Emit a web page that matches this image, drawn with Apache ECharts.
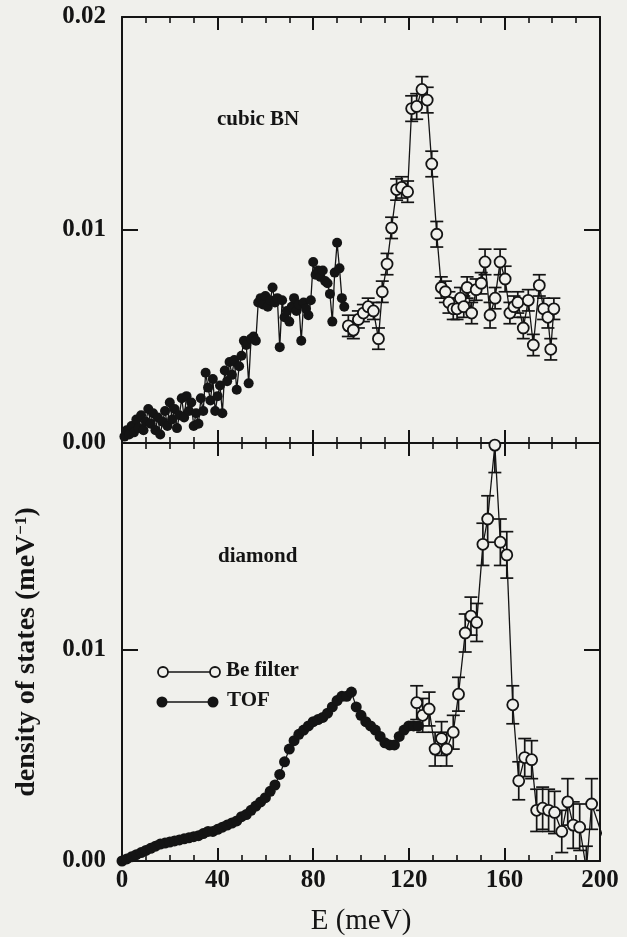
<!DOCTYPE html>
<html>
<head>
<meta charset="utf-8">
<script src="https://cdn.jsdelivr.net/npm/echarts@6/dist/echarts.min.js"></script>
<style>
  html, body { margin: 0; padding: 0; background: #f0f0ec; }
  #chart { width: 627px; height: 937px; }
</style>
</head>
<body>
<div id="chart"></div>
<script>
// Phonon density of states: cubic BN (top) and diamond (bottom).
// TOF = time-of-flight spectrometer, Be filter = beryllium-filter analyser.

// cubic BN, TOF
const cubicTofE = [1,2,3,4,5,6,7,8,9,10,11,12,13,14,15,16,17,18,19,20,
  21,22,23,24,25,26,27,28,29,30,31,32,33,34,35,36,37,38,39,40,
  41,42,43,44,45,46,47,48,49,50,51,52,53,54,55,56,57,58,59,60,
  61,62,63,64,65,66,67,68,69,70,71,72,73,74,75,76,77,78,79,80,
  81,82,83,84,85,86,87,88,89,90,91,92,93];
const cubicTofDos = [0.0003,0.0006,0.0004,0.0008,0.0005,0.0011,0.0007,0.0013,0.0006,0.0010,
  0.0016,0.0009,0.0014,0.0006,0.0012,0.0004,0.0010,0.0015,0.0008,0.0019,
  0.0011,0.0016,0.0007,0.0013,0.0021,0.0012,0.0022,0.0015,0.0019,0.0008,
  0.0014,0.0009,0.0021,0.0015,0.0033,0.0026,0.0020,0.0030,0.0015,0.0022,
  0.0027,0.0014,0.0034,0.0029,0.0038,0.0032,0.0039,0.0025,0.0036,0.0041,
  0.0048,0.0046,0.0028,0.0049,0.0050,0.0048,0.0066,0.0068,0.0065,0.0069,
  0.0064,0.0067,0.0073,0.0066,0.0068,0.0045,0.0067,0.0059,0.0062,0.0057,
  0.0064,0.0068,0.0062,0.0065,0.0048,0.0066,0.0063,0.0060,0.0067,0.0085,
  0.0079,0.0081,0.0078,0.0081,0.0076,0.0075,0.0070,0.0057,0.0080,0.0094,
  0.0082,0.0068,0.0064];

// cubic BN, Be filter (with error bars)
const cubicBeE = [94.7,96.8,98.9,101.0,103.0,105.2,107.3,108.9,110.9,112.8,
  114.9,117.0,119.5,121.2,123.3,125.5,127.7,129.6,131.7,133.6,
  135.3,136.8,138.6,140.2,141.6,143.0,144.4,146.3,148.2,150.3,
  151.9,154.0,156.1,158.2,160.3,162.3,164.0,165.6,167.9,170.0,
  172.1,174.6,176.4,178.2,179.4,180.7];
const cubicBeDos = [0.0055,0.0053,0.0058,0.0061,0.0064,0.0062,0.0049,0.0071,0.0084,0.0101,
  0.0119,0.0120,0.0118,0.0157,0.0158,0.0166,0.0161,0.0131,0.0098,0.0073,
  0.0071,0.0066,0.0063,0.0063,0.0068,0.0064,0.0073,0.0061,0.0072,0.0075,
  0.0085,0.0060,0.0068,0.0085,0.0077,0.0061,0.0064,0.0066,0.0054,0.0067,
  0.0046,0.0074,0.0063,0.0059,0.0044,0.0063];
const cubicBeErr = [0.0005,0.0004,0.0004,0.0004,0.0004,0.0004,0.0005,0.0005,0.0005,0.0005,
  0.0005,0.0005,0.0005,0.0006,0.0006,0.0006,0.0006,0.0006,0.0006,0.0005,
  0.0005,0.0005,0.0005,0.0005,0.0005,0.0005,0.0005,0.0005,0.0005,0.0005,
  0.0006,0.0006,0.0005,0.0006,0.0006,0.0005,0.0005,0.0005,0.0005,0.0005,
  0.0005,0.0005,0.0005,0.0005,0.0005,0.0005];

// diamond, TOF
const diamondTofE = [0,2,4,6,8,10,12,14,16,18,20,22,24,26,28,30,32,34,36,38,
  40,42,44,46,48,50,52,54,56,58,60,62,64,66,68,70,72,74,76,78,
  80,82,84,86,88,90,92,94,96,98,100,102,104,106,108,110,112,114,116,118,
  120,122,124];
const diamondTofDos = [0.0000,0.0001,0.0002,0.0003,0.0004,0.0005,0.0006,0.0007,0.0008,0.00085,
  0.0009,0.00095,0.0010,0.00105,0.0011,0.00115,0.0012,0.0013,0.0014,0.0014,
  0.0015,0.0016,0.0017,0.0018,0.0019,0.0021,0.0022,0.0024,0.0026,0.0028,
  0.0030,0.0033,0.0036,0.0041,0.0047,0.0053,0.0057,0.0060,0.0062,0.0064,
  0.0066,0.0067,0.0068,0.0070,0.0073,0.0076,0.0078,0.0078,0.0080,0.0073,
  0.0069,0.0066,0.0064,0.0062,0.0059,0.0056,0.0055,0.0055,0.0059,0.0062,
  0.0064,0.0064,0.0064];

// diamond, Be filter (with error bars)
const diamondBeE = [123.3,125.8,128.5,131.0,133.7,135.8,138.6,140.8,143.6,146.0,
  148.4,151.0,153.0,156.0,158.3,161.0,163.5,166.0,168.5,171.4,
  173.5,176.0,178.5,181.0,184.0,186.5,188.8,191.5,194.3,196.5,201.0];
const diamondBeDos = [0.0075,0.0069,0.0072,0.0053,0.0058,0.0053,0.0061,0.0079,0.0108,0.0116,
  0.0113,0.0150,0.0162,0.0197,0.0151,0.0145,0.0074,0.0038,0.0049,0.0048,
  0.0024,0.0025,0.0024,0.0023,0.0014,0.0028,0.0017,0.0016,-0.0004,0.0027,0.0012];
const diamondBeErr = [0.0008,0.0008,0.0008,0.0008,0.0008,0.0008,0.0008,0.0008,0.0009,0.0009,
  0.0009,0.0010,0.0011,0.0013,0.0011,0.0011,0.0009,0.0009,0.0009,0.0009,
  0.0010,0.0010,0.0010,0.0010,0.0010,0.0011,0.0011,0.0011,0.0011,0.0012,0.0012];

// axis ticks
const xTicks = [0, 40, 80, 120, 160, 200];
const yTicks = [0.00, 0.01, 0.02];

const INK = '#141414';
const PAPER = '#f0f0ec';
const SERIF = "'Liberation Serif', 'DejaVu Serif', serif";

const pairs = (xs, ys) => xs.map((x, i) => [x, ys[i]]);
const triples = (xs, ys, es) => xs.map((x, i) => [x, ys[i], es[i]]);

function errorBars(params, api) {
  const x = api.value(0), y = api.value(1), e = api.value(2);
  const hi = api.coord([x, y + e]);
  const lo = api.coord([x, y - e]);
  const hw = 6.5;
  const st = { stroke: INK, lineWidth: 1.7 };
  return {
    type: 'group',
    children: [
      { type: 'line', shape: { x1: hi[0], y1: hi[1], x2: lo[0], y2: lo[1] }, style: st },
      { type: 'line', shape: { x1: hi[0] - hw, y1: hi[1], x2: hi[0] + hw, y2: hi[1] }, style: st },
      { type: 'line', shape: { x1: lo[0] - hw, y1: lo[1], x2: lo[0] + hw, y2: lo[1] }, style: st }
    ]
  };
}

function xAxisFor(grid, pos, labels) {
  return {
    type: 'value', gridIndex: grid, position: pos, min: 0, max: 200, interval: 40,
    axisLine: { show: true, onZero: false, lineStyle: { color: INK, width: 2 } },
    axisTick: { show: true, inside: true, length: 13, lineStyle: { color: INK, width: 2 } },
    minorTick: { show: true, splitNumber: 4, length: 6, lineStyle: { color: INK, width: 1.6 } },
    splitLine: { show: false },
    axisLabel: {
      show: labels, margin: 7, color: INK, fontFamily: SERIF, fontWeight: 'bold', fontSize: 25,
      formatter: v => (xTicks.includes(v) ? String(v) : '')
    },
    name: labels ? 'E (meV)' : '',
    nameLocation: 'middle', nameGap: 46,
    nameTextStyle: { color: INK, fontFamily: SERIF, fontSize: 29 }
  };
}

function yAxisFor(grid, pos, max, labels) {
  return {
    type: 'value', gridIndex: grid, position: pos, min: 0, max: max, interval: 0.01,
    axisLine: { show: true, onZero: false, lineStyle: { color: INK, width: 2 } },
    axisTick: { show: true, inside: true, length: 16, lineStyle: { color: INK, width: 2 } },
    splitLine: { show: false },
    axisLabel: {
      show: labels, margin: 16, color: INK, fontFamily: SERIF, fontWeight: 'bold', fontSize: 25,
      showMaxLabel: max === 0.02,
      formatter: v => (yTicks.some(t => Math.abs(t - v) < 1e-9) ? v.toFixed(2) : '')
    }
  };
}

const lineStyle = { color: INK, width: 1.3 };

const option = {
  backgroundColor: PAPER,
  animation: false,
  grid: [
    { left: 122, top: 17, width: 478, height: 426 },
    { left: 122, top: 443, width: 478, height: 419 }
  ],
  xAxis: [
    xAxisFor(0, 'bottom', false),
    xAxisFor(0, 'top', false),
    xAxisFor(1, 'bottom', true),
    xAxisFor(1, 'top', false)
  ],
  yAxis: [
    yAxisFor(0, 'left', 0.02, true),
    yAxisFor(0, 'right', 0.02, false),
    yAxisFor(1, 'left', 0.0198, true),
    yAxisFor(1, 'right', 0.0198, false)
  ],
  series: [
    {
      name: 'TOF', type: 'line', xAxisIndex: 0, yAxisIndex: 0,
      data: pairs(cubicTofE, cubicTofDos),
      symbol: 'circle', symbolSize: 10, showAllSymbol: true,
      itemStyle: { color: INK }, lineStyle: lineStyle, z: 3
    },
    {
      type: 'custom', xAxisIndex: 0, yAxisIndex: 0, clip: true,
      data: triples(cubicBeE, cubicBeDos, cubicBeErr),
      renderItem: errorBars, z: 2
    },
    {
      name: 'Be filter', type: 'line', xAxisIndex: 0, yAxisIndex: 0,
      data: pairs(cubicBeE, cubicBeDos),
      symbol: 'circle', symbolSize: 11, showAllSymbol: true,
      itemStyle: { color: PAPER, borderColor: INK, borderWidth: 1.8 },
      lineStyle: lineStyle, z: 4
    },
    {
      name: 'TOF', type: 'line', xAxisIndex: 2, yAxisIndex: 2,
      data: pairs(diamondTofE, diamondTofDos),
      symbol: 'circle', symbolSize: 11, showAllSymbol: true,
      itemStyle: { color: INK }, lineStyle: lineStyle, z: 3
    },
    {
      type: 'custom', xAxisIndex: 2, yAxisIndex: 2, clip: true,
      data: triples(diamondBeE, diamondBeDos, diamondBeErr),
      renderItem: errorBars, z: 2
    },
    {
      name: 'Be filter', type: 'line', xAxisIndex: 2, yAxisIndex: 2,
      data: pairs(diamondBeE, diamondBeDos),
      symbol: 'circle', symbolSize: 11, showAllSymbol: true,
      itemStyle: { color: PAPER, borderColor: INK, borderWidth: 1.8 },
      lineStyle: lineStyle, z: 4
    }
  ],
  graphic: [
    {
      type: 'text', left: 217, top: 109,
      style: { text: 'cubic BN', fill: INK, font: "bold 21px 'Liberation Serif', serif" }
    },
    {
      type: 'text', left: 218, top: 546,
      style: { text: 'diamond', fill: INK, font: "bold 21px 'Liberation Serif', serif" }
    },
    // legend: open symbols = Be filter, filled symbols = TOF
    { type: 'line', shape: { x1: 163, y1: 672, x2: 215, y2: 672 }, style: { stroke: INK, lineWidth: 1.5 } },
    { type: 'circle', shape: { cx: 163, cy: 672, r: 5 }, style: { fill: PAPER, stroke: INK, lineWidth: 1.8 }, z: 10 },
    { type: 'circle', shape: { cx: 215, cy: 672, r: 5 }, style: { fill: PAPER, stroke: INK, lineWidth: 1.8 }, z: 10 },
    {
      type: 'text', left: 226, top: 660,
      style: { text: 'Be filter', fill: INK, font: "bold 21px 'Liberation Serif', serif" }
    },
    { type: 'line', shape: { x1: 162, y1: 702, x2: 213, y2: 702 }, style: { stroke: INK, lineWidth: 1.5 } },
    { type: 'circle', shape: { cx: 162, cy: 702, r: 5.5 }, style: { fill: INK }, z: 10 },
    { type: 'circle', shape: { cx: 213, cy: 702, r: 5.5 }, style: { fill: INK }, z: 10 },
    {
      type: 'text', left: 227, top: 690,
      style: { text: 'TOF', fill: INK, font: "bold 21px 'Liberation Serif', serif" }
    },
    // y-axis title, rotated, centred on the lower panel
    {
      type: 'text', x: 27, y: 652, rotation: Math.PI / 2,
      style: {
        text: 'density of states (meV{sup|−1})',
        fill: INK, font: "bold 28px 'Liberation Serif', serif",
        align: 'center', verticalAlign: 'middle',
        rich: {
          sup: { fontSize: 17, fontWeight: 'bold', fontFamily: SERIF, fill: INK, verticalAlign: 'top', padding: [0, 0, 11, 0] }
        }
      }
    }
  ]
};

const chart = echarts.init(document.getElementById('chart'), null, { renderer: 'canvas' });
chart.setOption(option);
</script>
</body>
</html>
